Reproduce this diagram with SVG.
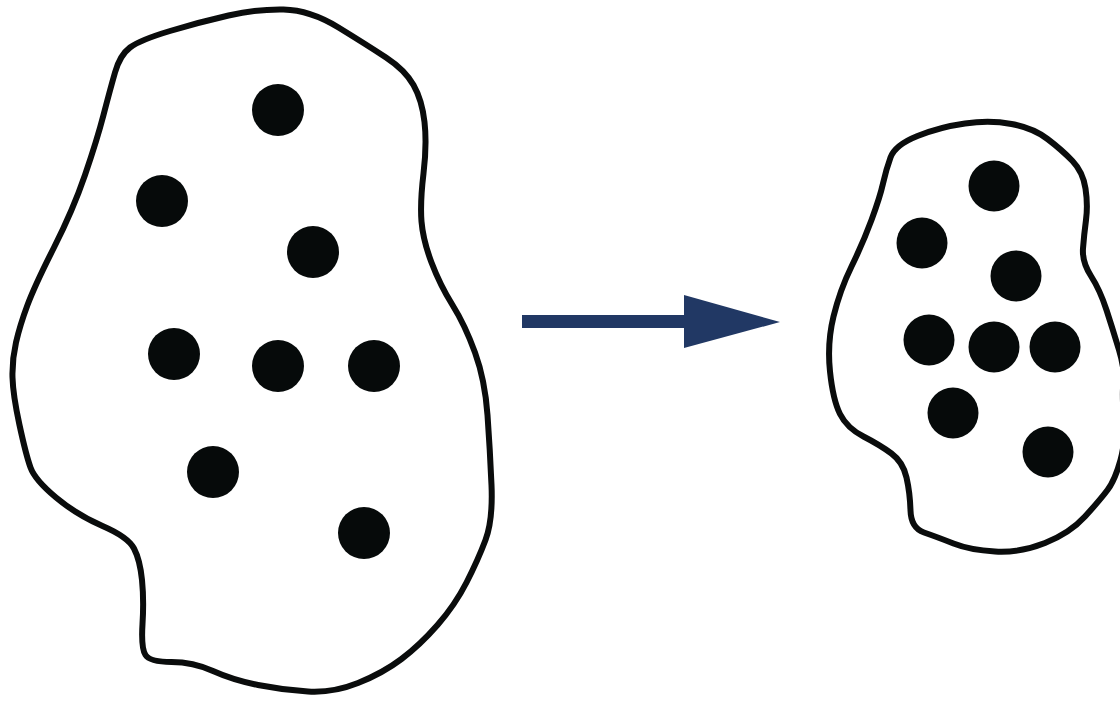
<svg xmlns="http://www.w3.org/2000/svg" width="1120" height="706" viewBox="0 0 1120 706">
<style>
.blob{fill:#fff;stroke:#0a0c0c;stroke-width:6;stroke-linejoin:round}
.dot{fill:#060a0a}
.arrow{fill:#213864}
</style>
<rect width="1120" height="706" fill="#fff"/>
<g id="large-cluster">
<path class="blob" d="M115,72.5 Q120,55 130,47.5 Q140,40 170,31 Q200,22 228.5,15.5 Q257,9 283.5,9.5 Q310,10 338.5,27.5 Q367,45 386,57.5 Q405,70 413.5,85 Q422,100 424.5,122 Q427,144 423.5,173.5 Q420,203 421.5,221.5 Q423,240 431.5,262.5 Q440,285 452.5,305 Q465,325 475,352.5 Q485,380 487.5,415 Q490,450 491.5,485 Q493,520 485.5,540 Q478,560 466.5,582.5 Q455,605 437.5,625 Q420,645 401.5,659 Q383,673 358,683 Q333,693 308,691.5 Q283,690 258,685 Q233,680 213,671 Q193,662 171.5,662 Q150,662 145.5,655 Q141,648 142.5,624 Q144,600 142,580 Q140,560 134,548.5 Q128,537 102.5,526 Q77,515 56,497.5 Q35,480 30.5,467.5 Q26,455 19.5,425 Q13,395 12.5,377.5 Q12,360 16,342.5 Q20,325 27.5,305 Q35,285 54,247.5 Q73,210 85,175 Q97,140 103.5,115 Q110,90 115,72.5 Z"/>
<circle class="dot" cx="278" cy="110" r="26"/>
<circle class="dot" cx="162" cy="201" r="26"/>
<circle class="dot" cx="313" cy="252" r="26"/>
<circle class="dot" cx="174" cy="354" r="26"/>
<circle class="dot" cx="278" cy="366" r="26"/>
<circle class="dot" cx="374" cy="366" r="26"/>
<circle class="dot" cx="213" cy="472" r="26"/>
<circle class="dot" cx="364" cy="533" r="26"/>
</g>
<g id="connectors">
<rect class="arrow" x="522" y="315" width="168" height="13"/>
<polygon class="arrow" points="684,295 780,322 684,348"/>
</g>
<g id="small-cluster">
<path class="blob" d="M883,183.5 Q886,170 890.5,157.5 Q895,145 917.5,136 Q940,127 965,123.5 Q990,120 1011.5,124 Q1033,128 1047.5,139 Q1062,150 1072.5,161 Q1083,172 1085.5,188.5 Q1088,205 1086,220 Q1084,235 1083,248.5 Q1082,262 1091,276 Q1100,290 1106.5,310 Q1113,330 1119,350 Q1125,370 1123.5,382.5 Q1122,395 1124,417.5 Q1126,440 1120.5,460 Q1115,480 1107.5,490 Q1100,500 1085,516.5 Q1070,533 1045,543 Q1020,553 995,551.5 Q970,550 953.5,543.5 Q937,537 924,532.5 Q911,528 910.5,510.5 Q910,493 906.5,477.5 Q903,462 891.5,453.5 Q880,445 863.5,436.5 Q847,428 840,414 Q833,400 830,371.5 Q827,343 833.5,316.5 Q840,290 851.5,266.5 Q863,243 871.5,220 Q880,197 883,183.5 Z"/>
<circle class="dot" cx="994" cy="186" r="25.5"/>
<circle class="dot" cx="922" cy="243" r="25.5"/>
<circle class="dot" cx="1016" cy="276" r="25.5"/>
<circle class="dot" cx="929" cy="340" r="25.5"/>
<circle class="dot" cx="994" cy="347" r="25.5"/>
<circle class="dot" cx="1055" cy="347" r="25.5"/>
<circle class="dot" cx="953" cy="413" r="25.5"/>
<circle class="dot" cx="1048" cy="452" r="25.5"/>
</g>
</svg>
